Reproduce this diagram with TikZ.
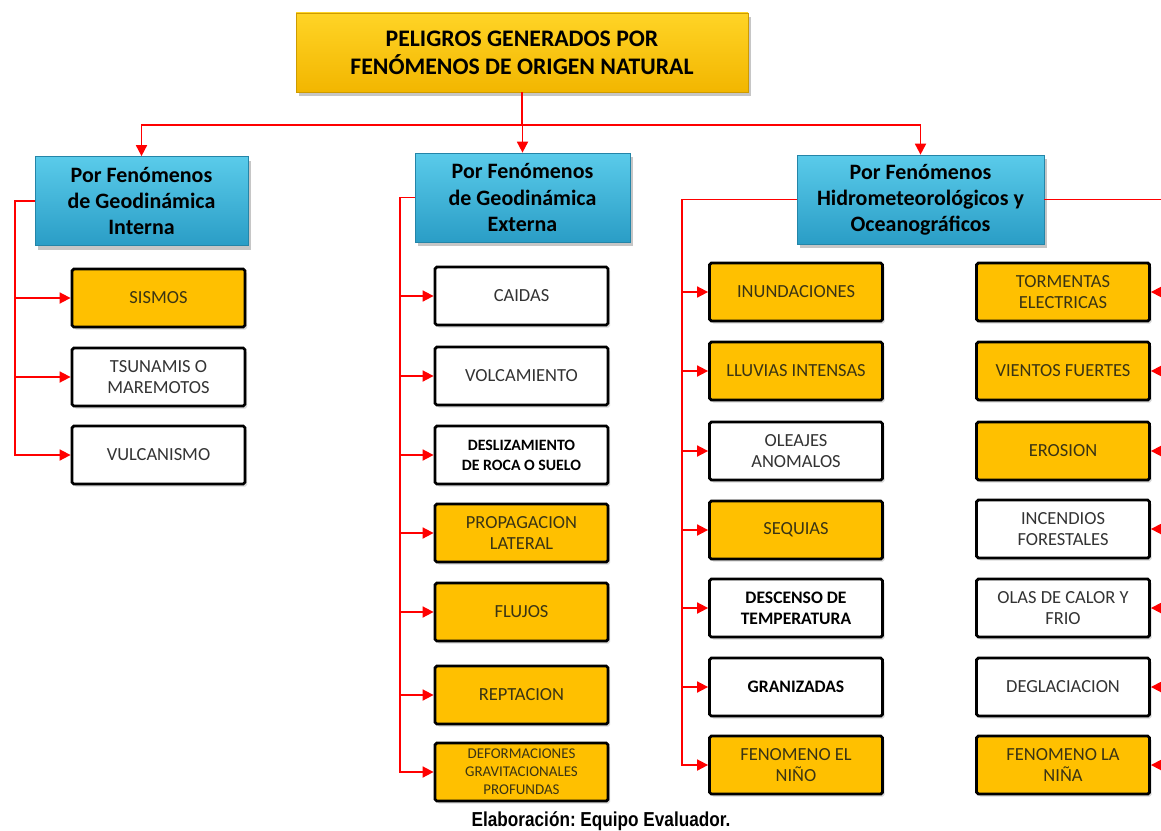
\documentclass[tikz,border=0pt]{standalone}
\usepackage{fontspec}
\setmainfont{Carlito}
\newfontfamily\notefont[FakeStretch=0.85]{Liberation Sans}
\usetikzlibrary{arrows.meta, positioning, shadows}
\definecolor{goldtop}{HTML}{FFD426}
\definecolor{goldbot}{HTML}{F2B600}
\definecolor{cyantop}{HTML}{5ACBEA}
\definecolor{cyanbot}{HTML}{2A9DC6}
\definecolor{hazard}{HTML}{FFC000}
\definecolor{hazardtext}{HTML}{3A3414}
\tikzset{
    header/.style={
        rectangle,
        draw=goldbot!85!black,
        top color=goldtop,
        bottom color=goldbot,
        minimum width=9.04cm,
        minimum height=1.58cm,
        align=center,
        font=\bfseries\fontsize{13.5}{16}\selectfont,
        drop shadow={opacity=0.45, shadow xshift=0.6mm, shadow yshift=-0.8mm}
    },
    group/.style={
        rectangle,
        draw=cyanbot!85!black,
        top color=cyantop,
        bottom color=cyanbot,
        minimum width=#1,
        minimum height=1.78cm,
        align=center,
        font=\bfseries\fontsize{12.5}{14.8}\selectfont,
        drop shadow={opacity=0.45, shadow xshift=0.6mm, shadow yshift=-0.8mm}
    },
    item/.style={
        rectangle,
        rounded corners=1pt,
        draw=black,
        line width=1.6pt,
        minimum width=3.46cm,
        minimum height=1.16cm,
        align=center,
        font=\fontsize{10.5}{12}\selectfont,
        drop shadow={opacity=0.3, shadow xshift=0.4mm, shadow yshift=-0.5mm}
    },
    hot/.style={item, fill=hazard, text=hazardtext},
    cold/.style={item, fill=white, text=black!80},
    link/.style={
        draw=red,
        line width=1pt
    },
    arrow/.style={
        link,
        -{Triangle[length=2.2mm, width=2.2mm]}
    }
}
\begin{document}
\begin{tikzpicture}
    \useasboundingbox (0,0) rectangle (23.22,-16.6);

    \node[header]          (title) at (10.44,-1.05) {PELIGROS GENERADOS POR\\FENÓMENOS DE ORIGEN NATURAL};
    \node[group=4.26cm]    (geoint) at (2.83,-4.02)  {Por Fenómenos\\de Geodinámica\\Interna};
    \node[group=4.30cm]    (geoext) at (10.45,-3.95) {Por Fenómenos\\de Geodinámica\\Externa};
    \node[group=4.94cm]    (hidro)  at (18.41,-3.99) {Por Fenómenos\\Hidrometeorológicos y\\Oceanográficos};

    % geodinamica interna
    \node[hot]  (sismos)   at (3.17,-5.96) {SISMOS};
    \node[cold] (tsunamis) at (3.17,-7.54) {TSUNAMIS O\\MAREMOTOS};
    \node[cold] (vulcan)   at (3.17,-9.10) {VULCANISMO};

    % geodinamica externa
    \node[cold] (caidas)   at (10.43,-5.92)  {CAIDAS};
    \node[cold] (volca)    at (10.43,-7.52)  {VOLCAMIENTO};
    \node[cold, text=black, font=\bfseries\fontsize{9}{11.5}\selectfont]
                (desliz)   at (10.43,-9.10)  {DESLIZAMIENTO\\DE ROCA O SUELO};
    \node[hot]  (propag)   at (10.43,-10.66) {PROPAGACION\\LATERAL};
    \node[hot]  (flujos)   at (10.43,-12.24) {FLUJOS};
    \node[hot]  (reptac)   at (10.43,-13.90) {REPTACION};
    \node[hot, font=\fontsize{8.5}{10.2}\selectfont]
                (deform)   at (10.43,-15.44) {DEFORMACIONES\\GRAVITACIONALES\\PROFUNDAS};

    % hidrometeorologicos, columna izquierda
    \node[hot]  (inund)    at (15.92,-5.84)  {INUNDACIONES};
    \node[hot]  (lluvias)  at (15.92,-7.42)  {LLUVIAS INTENSAS};
    \node[cold] (oleajes)  at (15.92,-9.02)  {OLEAJES\\ANOMALOS};
    \node[hot]  (sequias)  at (15.92,-10.60) {SEQUIAS};
    \node[cold, text=black, font=\bfseries\fontsize{10}{12}\selectfont]
                (descenso) at (15.92,-12.16) {DESCENSO DE\\TEMPERATURA};
    \node[cold, text=black, font=\bfseries\fontsize{10}{12}\selectfont]
                (graniz)   at (15.92,-13.74) {GRANIZADAS};
    \node[hot]  (nino)     at (15.92,-15.30) {FENOMENO EL\\NIÑO};

    % hidrometeorologicos, columna derecha
    \node[hot]  (torment)  at (21.26,-5.84)  {TORMENTAS\\ELECTRICAS};
    \node[hot]  (vientos)  at (21.26,-7.42)  {VIENTOS FUERTES};
    \node[hot]  (erosion)  at (21.26,-9.02)  {EROSION};
    \node[cold] (incend)   at (21.26,-10.58) {INCENDIOS\\FORESTALES};
    \node[cold] (olas)     at (21.26,-12.16) {OLAS DE CALOR Y\\FRIO};
    \node[cold] (deglac)   at (21.26,-13.74) {DEGLACIACION};
    \node[hot]  (nina)     at (21.26,-15.30) {FENOMENO LA\\NIÑA};

    \node[font=\notefont\bfseries\frenchspacing\fontsize{11.5}{13}\selectfont] (source) at (12.02,-16.43) {Elaboración: Equipo Evaluador.};

    \draw[link]  (title.south) -- ++(0,-0.66) coordinate (split);
    \draw[arrow] (split) -| (geoint.north);
    \draw[arrow] (split) -| (geoext.north);
    \draw[arrow] (split) -| (hidro.north);

    \draw[arrow] (geoint.west) -- ++(-0.4,0) |- (sismos.west);
    \draw[arrow] (geoint.west) -- ++(-0.4,0) |- (tsunamis.west);
    \draw[arrow] (geoint.west) -- ++(-0.4,0) |- (vulcan.west);

    \draw[arrow] (geoext.west) -- ++(-0.3,0) |- (caidas.west);
    \draw[arrow] (geoext.west) -- ++(-0.3,0) |- (volca.west);
    \draw[arrow] (geoext.west) -- ++(-0.3,0) |- (desliz.west);
    \draw[arrow] (geoext.west) -- ++(-0.3,0) |- (propag.west);
    \draw[arrow] (geoext.west) -- ++(-0.3,0) |- (flujos.west);
    \draw[arrow] (geoext.west) -- ++(-0.3,0) |- (reptac.west);
    \draw[arrow] (geoext.west) -- ++(-0.3,0) |- (deform.west);

    \draw[arrow] (hidro.west) -- ++(-2.3,0) |- (inund.west);
    \draw[arrow] (hidro.west) -- ++(-2.3,0) |- (lluvias.west);
    \draw[arrow] (hidro.west) -- ++(-2.3,0) |- (oleajes.west);
    \draw[arrow] (hidro.west) -- ++(-2.3,0) |- (sequias.west);
    \draw[arrow] (hidro.west) -- ++(-2.3,0) |- (descenso.west);
    \draw[arrow] (hidro.west) -- ++(-2.3,0) |- (graniz.west);
    \draw[arrow] (hidro.west) -- ++(-2.3,0) |- (nino.west);

    \draw[arrow] (hidro.east) -- ++(2.38,0) |- (torment.east);
    \draw[arrow] (hidro.east) -- ++(2.38,0) |- (vientos.east);
    \draw[arrow] (hidro.east) -- ++(2.38,0) |- (erosion.east);
    \draw[arrow] (hidro.east) -- ++(2.38,0) |- (incend.east);
    \draw[arrow] (hidro.east) -- ++(2.38,0) |- (olas.east);
    \draw[arrow] (hidro.east) -- ++(2.38,0) |- (deglac.east);
    \draw[arrow] (hidro.east) -- ++(2.38,0) |- (nina.east);
\end{tikzpicture}
\end{document}
